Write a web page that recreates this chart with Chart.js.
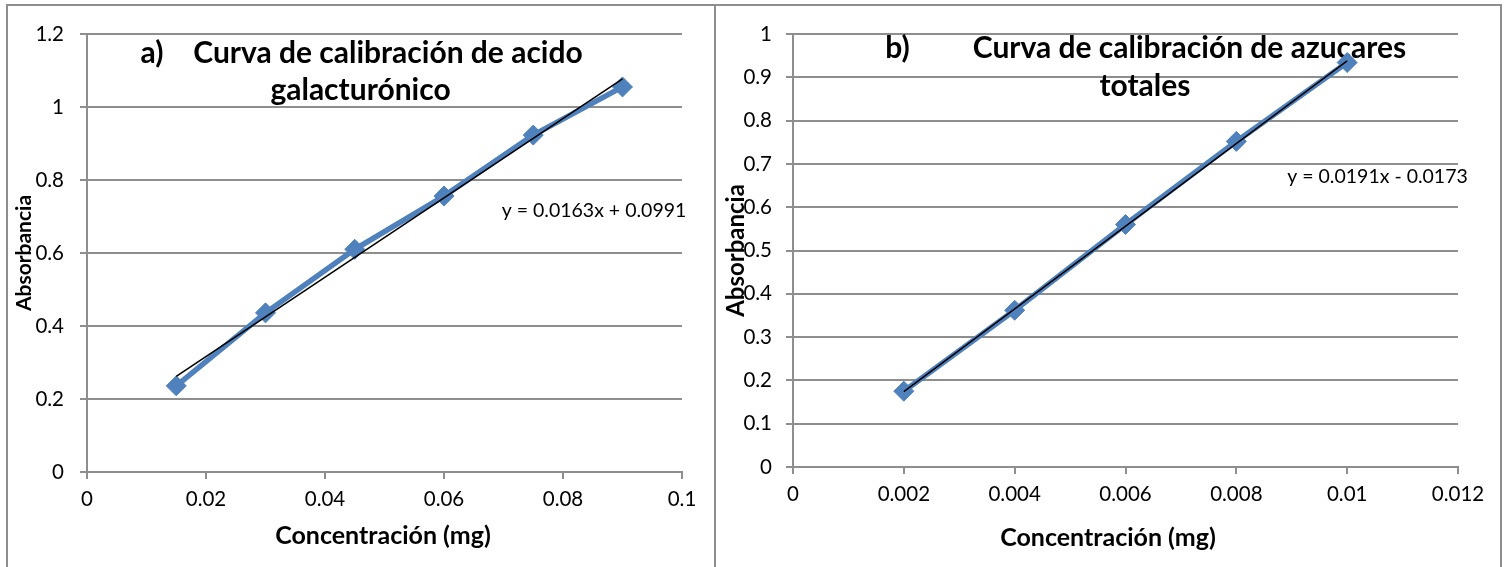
<!DOCTYPE html>
<html>
<head>
<meta charset="utf-8">
<title>Curvas de calibración</title>
<script src="https://cdn.jsdelivr.net/npm/chart.js@4.4.1/dist/chart.umd.min.js"></script>
<style>
  body { margin: 0; background: #fff; }
  #wrap { position: relative; width: 1507px; height: 567px; overflow: hidden; }
  #wrap canvas { position: absolute; top: 0; }
  .frame { position: absolute; top: 4px; height: 600px; border: 2px solid #8e8e8e; border-bottom: none; }
</style>
</head>
<body>
<div id="wrap">
  <canvas id="chart-a" width="715" height="567" style="left:0"></canvas>
  <canvas id="chart-b" width="792" height="567" style="left:715px"></canvas>
  <div class="frame" style="left:6px; width:706px"></div>
  <div class="frame" style="left:713px; width:787px; border-left:none"></div>
</div>
<script>
// a) ácido galacturónico
const galacConc = [0.015, 0.03, 0.045, 0.06, 0.075, 0.09];
const galacAbs = [0.236, 0.436, 0.610, 0.756, 0.923, 1.055];
const galacFitConc = [0.015, 0.09];
const galacFitAbs = [0.262, 1.077];
const galacTicksX = [0, 0.02, 0.04, 0.06, 0.08, 0.1];
const galacTicksY = [0, 0.2, 0.4, 0.6, 0.8, 1, 1.2];

// b) azúcares totales
const azucConc = [0.002, 0.004, 0.006, 0.008, 0.01];
const azucAbs = [0.175, 0.362, 0.560, 0.752, 0.934];
const azucFitConc = [0.002, 0.01];
const azucFitAbs = [0.174, 0.938];
const azucTicksX = [0, 0.002, 0.004, 0.006, 0.008, 0.01, 0.012];
const azucTicksY = [0, 0.1, 0.2, 0.3, 0.4, 0.5, 0.6, 0.7, 0.8, 0.9, 1];

const BLUE = '#4f81bd';
const GRID = '#8e8e8e';
const FONT = 'Lato, "Open Sans", sans-serif';

const toPoints = (xs, ys) => xs.map((x, i) => ({ x: x, y: ys[i] }));

// titles, equation and x axis title, painted under the series
const textLayer = {
  id: 'textLayer',
  beforeDatasetsDraw(chart, args, opts) {
    const ctx = chart.ctx;
    ctx.save();
    ctx.fillStyle = '#000';
    ctx.textBaseline = 'alphabetic';
    opts.items.forEach(t => {
      ctx.font = t.font;
      ctx.textAlign = t.align || 'center';
      ctx.fillText(t.text, t.x, t.y);
    });
    ctx.restore();
  }
};

function makeChart(el, cfg) {
  // fixed axis boxes so the plot area lands where it should
  const pinY = s => {
    s.width = cfg.yWidth;
    s.paddingTop = s.paddingBottom = s.paddingLeft = s.paddingRight = 0;
  };
  const pinX = s => {
    s.height = cfg.xHeight;
    s.paddingTop = s.paddingBottom = s.paddingLeft = s.paddingRight = 0;
  };

  return new Chart(el, {
    type: 'scatter',
    data: {
      datasets: [
        {
          label: 'Lineal',
          data: toPoints(cfg.fitX, cfg.fitY),
          showLine: true,
          borderColor: '#000',
          borderWidth: 1.5,
          pointRadius: 0,
          order: 0
        },
        {
          label: 'Absorbancia',
          data: toPoints(cfg.x, cfg.y),
          showLine: true,
          borderColor: BLUE,
          backgroundColor: BLUE,
          borderWidth: 5.5,
          pointStyle: 'rectRot',
          pointRadius: 10,
          pointBorderWidth: 1,
          pointBorderColor: BLUE,
          pointBackgroundColor: BLUE,
          order: 1
        }
      ]
    },
    options: {
      responsive: false,
      animation: false,
      layout: { padding: { left: 0, top: 34, right: cfg.padRight, bottom: 0 } },
      scales: {
        x: {
          type: 'linear',
          min: cfg.ticksX[0],
          max: cfg.ticksX[cfg.ticksX.length - 1],
          afterBuildTicks: s => { s.ticks = cfg.ticksX.map(v => ({ value: v })); },
          afterFit: pinX,
          grid: { drawOnChartArea: false, color: GRID, lineWidth: 2, tickLength: 7 },
          border: { color: GRID, width: 2 },
          ticks: {
            color: '#000',
            font: { family: FONT, size: 20.5 },
            padding: 8,
            maxRotation: 0,
            autoSkip: false,
            callback: v => String(v)
          }
        },
        y: {
          type: 'linear',
          min: cfg.ticksY[0],
          max: cfg.ticksY[cfg.ticksY.length - 1],
          afterBuildTicks: s => { s.ticks = cfg.ticksY.map(v => ({ value: v })); },
          afterFit: pinY,
          grid: { color: GRID, lineWidth: 2, tickLength: 7 },
          border: { color: GRID, width: 2 },
          ticks: {
            color: '#000',
            font: { family: FONT, size: 20.5 },
            padding: cfg.yTickPad,
            autoSkip: false,
            callback: v => String(v)
          },
          title: {
            display: true,
            text: 'Absorbancia',
            color: '#000',
            font: { family: FONT, size: cfg.yTitleSize, weight: 'bold' },
            padding: { top: cfg.yTitlePad, bottom: 0 }
          }
        }
      },
      plugins: {
        legend: { display: false },
        tooltip: { enabled: false },
        textLayer: { items: cfg.texts }
      }
    },
    plugins: [textLayer]
  });
}

const titleFont = 'bold 30px ' + FONT;
const eqFont = '19.5px ' + FONT;
const axisFont = 'bold 25px ' + FONT;

makeChart(document.getElementById('chart-a'), {
  x: galacConc, y: galacAbs, fitX: galacFitConc, fitY: galacFitAbs,
  ticksX: galacTicksX, ticksY: galacTicksY,
  yWidth: 87, xHeight: 95, padRight: 33, yTickPad: 16,
  yTitleSize: 21, yTitlePad: 12,
  texts: [
    { text: 'a)', x: 152, y: 62.5, font: titleFont },
    { text: 'Curva de calibración de acido', x: 388, y: 62.5, font: titleFont },
    { text: 'galacturónico', x: 360.5, y: 100, font: titleFont },
    { text: 'y = 0.0163x + 0.0991', x: 594, y: 217, font: eqFont },
    { text: 'Concentración (mg)', x: 383, y: 544, font: axisFont }
  ]
});

makeChart(document.getElementById('chart-b'), {
  x: azucConc, y: azucAbs, fitX: azucFitConc, fitY: azucFitAbs,
  ticksX: azucTicksX, ticksY: azucTicksY,
  yWidth: 78, xHeight: 100, padRight: 49, yTickPad: 14,
  yTitleSize: 24, yTitlePad: 7,
  texts: [
    { text: 'b)', x: 182.5, y: 58, font: titleFont },
    { text: 'Curva de calibración de azucares', x: 474.5, y: 58, font: titleFont },
    { text: 'totales', x: 430, y: 96, font: titleFont },
    { text: 'y = 0.0191x - 0.0173', x: 662.5, y: 182.5, font: eqFont },
    { text: 'Concentración (mg)', x: 393, y: 546, font: axisFont }
  ]
});
</script>
</body>
</html>
